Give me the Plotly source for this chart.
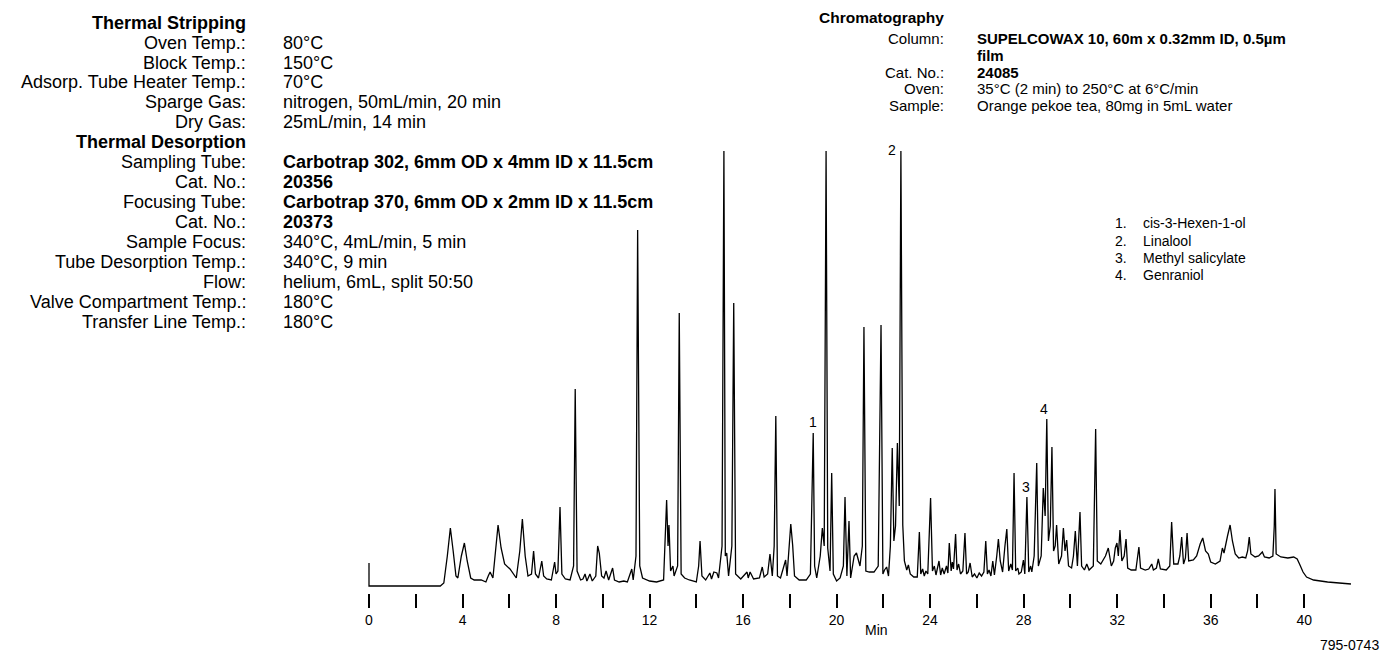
import plotly.graph_objects as go

# ---------------- data ----------------
# chromatogram trace: (retention time in min, detector response, arbitrary units)
segment_1 = [
    (0.0, 23), (0.0, 0), (3.05, 0), (3.2, 3), (3.35, 30), (3.48, 58), (3.6, 35), (3.72, 10),
    (3.8, 8), (3.95, 30), (4.08, 43), (4.2, 25), (4.35, 8), (4.5, 6), (4.8, 6), (5.0, 4),
    (5.1, 10), (5.18, 14), (5.3, 8), (5.42, 40), (5.52, 61), (5.65, 38), (5.8, 22), (6.03, 17),
    (6.15, 13), (6.3, 8), (6.45, 35), (6.56, 67), (6.68, 30), (6.8, 10), (6.95, 12), (7.04, 35),
    (7.12, 12), (7.25, 8), (7.39, 25), (7.47, 10), (7.6, 7), (7.8, 6), (7.94, 24), (8.0, 12),
    (8.08, 15), (8.17, 79), (8.25, 12), (8.4, 7), (8.6, 6), (8.75, 20), (8.82, 197), (8.9, 15),
    (9.05, 6), (9.15, 7), (9.24, 12), (9.32, 5), (9.45, 12), (9.55, 5), (9.7, 10), (9.78, 40),
    (9.85, 33), (9.95, 10), (10.05, 8), (10.14, 15), (10.25, 6), (10.42, 18), (10.5, 6),
    (10.7, 4), (10.9, 5), (11.05, 4), (11.24, 17), (11.3, 6), (11.42, 30), (11.49, 356),
    (11.58, 20), (11.7, 8), (12.0, 5), (12.3, 4), (12.6, 6),
]
segment_2 = [
    (12.73, 86), (12.79, 40), (12.83, 61), (12.9, 15), (13.0, 20), (13.05, 10), (13.2, 20),
    (13.27, 273), (13.35, 12), (13.5, 8), (13.7, 6), (14.0, 4), (14.1, 20), (14.16, 45),
    (14.24, 10), (14.4, 6), (14.58, 13), (14.65, 7), (14.75, 14), (14.88, 13), (14.95, 8),
    (15.1, 40), (15.18, 435), (15.24, 30), (15.3, 33), (15.38, 10), (15.52, 40), (15.6, 283),
    (15.68, 12), (15.9, 7), (16.17, 14), (16.22, 8), (16.3, 14), (16.45, 7), (16.7, 8),
    (16.82, 19), (16.9, 9), (17.05, 12), (17.15, 32), (17.25, 10), (17.33, 40), (17.4, 170),
    (17.47, 10), (17.6, 8), (17.82, 26), (17.88, 10), (18.04, 62), (18.12, 41), (18.2, 10),
    (18.4, 6), (18.7, 6), (18.88, 12), (19.0, 153), (19.06, 20), (19.15, 8), (19.3, 30),
    (19.39, 58), (19.47, 40), (19.55, 435), (19.62, 38), (19.72, 15), (19.79, 113), (19.86, 12),
    (20.0, 5), (20.15, 8), (20.29, 20), (20.36, 89), (20.44, 10), (20.53, 65), (20.6, 8),
    (20.75, 30), (20.85, 33), (21.0, 20), (21.1, 40), (21.17, 259), (21.25, 15), (21.4, 14),
    (21.6, 14), (21.78, 20), (21.9, 261), (21.98, 12), (22.05, 16), (22.14, 19), (22.22, 10),
    (22.3, 40), (22.38, 138), (22.45, 45), (22.52, 60), (22.6, 143), (22.68, 80), (22.75, 435),
    (22.83, 61), (22.9, 25), (23.0, 16), (23.07, 21), (23.15, 12), (23.3, 9), (23.45, 9),
]
segment_3 = [
    (23.54, 54), (23.6, 12), (23.68, 17), (23.75, 10), (23.82, 15), (23.9, 12), (24.02, 88),
    (24.1, 15), (24.18, 20), (24.25, 11), (24.38, 25), (24.45, 11), (24.52, 18), (24.6, 12),
    (24.7, 20), (24.76, 13), (24.82, 43), (24.9, 15), (24.95, 24), (25.0, 17), (25.09, 52),
    (25.15, 16), (25.22, 22), (25.3, 12), (25.4, 15), (25.49, 53), (25.56, 12), (25.63, 14),
    (25.71, 23), (25.8, 9), (25.9, 12), (26.0, 8), (26.1, 13), (26.2, 10), (26.3, 14),
    (26.38, 45), (26.45, 12), (26.52, 16), (26.6, 10), (26.68, 25), (26.75, 11), (26.85, 30),
    (26.92, 47), (27.0, 25), (27.1, 14), (27.2, 40), (27.28, 57), (27.36, 15), (27.45, 22),
    (27.52, 16), (27.59, 113), (27.66, 15), (27.75, 18), (27.8, 12), (27.9, 14), (27.99, 26),
    (28.05, 12), (28.14, 89), (28.22, 14), (28.3, 20), (28.35, 14), (28.45, 30), (28.56, 123),
    (28.63, 20), (28.75, 30), (28.84, 98), (28.92, 70), (28.99, 167), (29.06, 45), (29.14, 60),
    (29.21, 139), (29.28, 35), (29.35, 40), (29.41, 61), (29.5, 22), (29.62, 30), (29.7, 58),
    (29.77, 35), (29.84, 46), (29.92, 20), (30.05, 18), (30.13, 30), (30.21, 55), (30.3, 20),
    (30.41, 74), (30.48, 20), (30.6, 16), (30.7, 22), (30.8, 16), (30.98, 20), (31.08, 157),
    (31.15, 25), (31.3, 22),
]
segment_4 = [
    (31.5, 30), (31.62, 38), (31.75, 20), (31.85, 25), (31.92, 38), (31.99, 43), (32.05, 30),
    (32.12, 56), (32.2, 25), (32.3, 30), (32.38, 47), (32.45, 18), (32.6, 16), (32.8, 16),
    (32.93, 39), (33.0, 18), (33.2, 16), (33.35, 17), (33.48, 22), (33.55, 16), (33.68, 18),
    (33.76, 27), (33.85, 17), (34.1, 16), (34.25, 20), (34.33, 64), (34.42, 22), (34.6, 22),
    (34.68, 30), (34.76, 49), (34.84, 22), (34.92, 28), (34.99, 53), (35.06, 25), (35.26, 26),
    (35.4, 30), (35.55, 42), (35.66, 48), (35.78, 35), (35.9, 32), (36.0, 24), (36.2, 22),
    (36.4, 25), (36.5, 38), (36.57, 33), (36.62, 40), (36.72, 50), (36.83, 61), (36.93, 45),
    (37.05, 32), (37.2, 28), (37.35, 29), (37.5, 28), (37.58, 35), (37.65, 49), (37.72, 32),
    (37.9, 29), (38.05, 30), (38.21, 34), (38.3, 29), (38.5, 28), (38.66, 30), (38.72, 60),
    (38.75, 97), (38.8, 32), (39.0, 29), (39.3, 28), (39.55, 29), (39.7, 27), (39.8, 22),
    (39.95, 14), (40.1, 9), (40.4, 6), (41.0, 4), (41.5, 3), (42.0, 2),
]

# labelled peaks: number, retention time, label height
peak_numbers = ["1", "2", "3", "4"]
peak_label_rt = [19.0, 22.37, 28.09, 28.87]
peak_label_resp = [164, 436, 99, 177]

major_ticks = [0, 4, 8, 12, 16, 20, 24, 28, 32, 36, 40]
minor_ticks = [2, 6, 10, 14, 18, 22, 26, 30, 34, 38]

compound_names = ["cis-3-Hexen-1-ol", "Linalool", "Methyl salicylate", "Genraniol"]

stripping_labels = ["Oven Temp.:", "Block Temp.:", "Adsorp. Tube Heater Temp.:", "Sparge Gas:", "Dry Gas:"]
stripping_values = ["80°C", "150°C", "70°C", "nitrogen, 50mL/min, 20 min", "25mL/min, 14 min"]
desorption_labels = ["Sampling Tube:", "Cat. No.:", "Focusing Tube:", "Cat. No.:", "Sample Focus:",
                     "Tube Desorption Temp.:", "Flow:", "Valve Compartment Temp.:", "Transfer Line Temp.:"]
desorption_values = ["<b>Carbotrap 302, 6mm OD x 4mm ID x 11.5cm</b>", "<b>20356</b>",
                     "<b>Carbotrap 370, 6mm OD x 2mm ID x 11.5cm</b>", "<b>20373</b>",
                     "340°C, 4mL/min, 5 min", "340°C, 9 min", "helium, 6mL, split 50:50", "180°C", "180°C"]
chrom_labels = ["Column:", "", "Cat. No.:", "Oven:", "Sample:"]
chrom_values = ["<b>SUPELCOWAX 10, 60m x 0.32mm ID, 0.5µm</b>", "<b>film</b>", "<b>24085</b>",
                "35°C (2 min) to 250°C at 6°C/min", "Orange pekoe tea, 80mg in 5mL water"]

# ---------------- figure ----------------
W, H = 1385, 654
ML, MR, MT, MB = 360, 15, 140, 61
PW, PH = W - ML - MR, H - MT - MB
FONT = "Liberation Sans, Arial, Helvetica, sans-serif"

pts = segment_1 + segment_2 + segment_3 + segment_4
rt = [p[0] for p in pts]
resp = [p[1] for p in pts]

fig = go.Figure()
fig.add_trace(go.Scatter(x=rt, y=resp, mode="lines",
                         line=dict(color="black", width=1.3), hoverinfo="x+y", showlegend=False))


def fx(p):
    return (p - ML) / PW


def fy(p):
    return 1 - (p - MT) / PH


ann = []


def txt(text, x, y, anchor, size, bold=False):
    ann.append(dict(text=f"<b>{text}</b>" if bold else text, x=fx(x), y=fy(y), xref="paper", yref="paper",
                    xanchor=anchor, yanchor="middle", showarrow=False,
                    font=dict(family=FONT, size=size, color="black")))


# left block
LS = 18
row = 22.7
step = 19.93
txt("Thermal Stripping", 248, row, "right", LS, bold=True)
r = 1
for lab, val in zip(stripping_labels, stripping_values):
    txt(lab, 248, row + step * r, "right", LS)
    txt(val, 281, row + step * r, "left", LS)
    r += 1
txt("Thermal Desorption", 248, row + step * r, "right", LS, bold=True)
r += 1
for lab, val in zip(desorption_labels, desorption_values):
    txt(lab, 248, row + step * r, "right", LS)
    txt(val, 281, row + step * r, "left", LS)
    r += 1

# right block
RS = 15
txt("Chromatography", 946, 17.3, "right", 15.5, bold=True)
chrom_rows = [38.4, 55.2, 72.0, 88.8, 105.6]
for lab, val, yy in zip(chrom_labels, chrom_values, chrom_rows):
    if lab:
        txt(lab, 946, yy, "right", RS)
    txt(val, 975, yy, "left", RS)

# compound list
legend_rows = [223.3, 240.5, 257.8, 275]
for i, (name, yy) in enumerate(zip(compound_names, legend_rows)):
    txt(f"{i + 1}.", 1113, yy, "left", 14)
    txt(name, 1141, yy, "left", 14)

# peak numbers
for n, x, y in zip(peak_numbers, peak_label_rt, peak_label_resp):
    ann.append(dict(text=n, x=x, y=y, xref="x", yref="y", xanchor="center", yanchor="middle",
                    showarrow=False, font=dict(family=FONT, size=14, color="black")))

txt("Min", 876, 630, "center", 14)
txt("795-0743", 1381, 645, "right", 14)

px_per_min = 23.38
x0_px = 369
fig.update_layout(
    width=W, height=H, margin=dict(l=ML, r=MR, t=MT, b=MB),
    paper_bgcolor="white", plot_bgcolor="white",
    annotations=ann,
    xaxis=dict(range=[(ML - x0_px) / px_per_min, (W - MR - x0_px) / px_per_min],
               showgrid=False, zeroline=False, showline=False,
               tickmode="array", tickvals=major_ticks, ticktext=[str(v) for v in major_ticks],
               ticks="outside", ticklen=14, tickwidth=1.5, tickcolor="black",
               tickfont=dict(family=FONT, size=14, color="black"),
               minor=dict(tickmode="array", tickvals=minor_ticks, ticks="outside", ticklen=14,
                          tickwidth=1.5, tickcolor="black", showgrid=False)),
    yaxis=dict(range=[586 - (H - MB), 586 - MT], visible=False, showgrid=False, zeroline=False),
)

fig.write_html("out.html")
